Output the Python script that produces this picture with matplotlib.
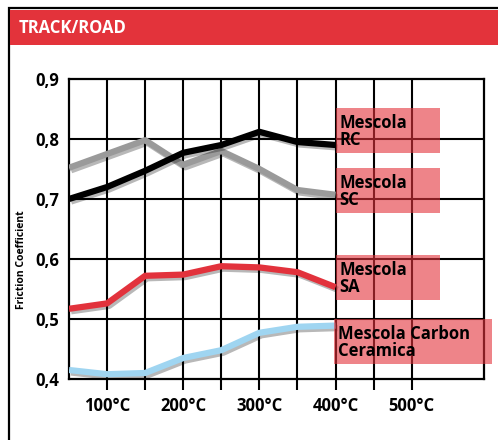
import matplotlib
matplotlib.use("Agg")
import matplotlib.pyplot as plt
import matplotlib.patheffects as pe
from matplotlib.patches import Rectangle

plt.rcParams['font.family'] = ['Open Sans', 'DejaVu Sans']
plt.rcParams['font.weight'] = 'bold'

# data
temps = [50, 100, 150, 200, 250, 300, 350, 400]
rc = [0.700, 0.720, 0.747, 0.777, 0.790, 0.812, 0.795, 0.790]
sc = [0.752, 0.775, 0.798, 0.757, 0.780, 0.750, 0.715, 0.707]
sa = [0.517, 0.526, 0.572, 0.574, 0.588, 0.586, 0.578, 0.553]
cc = [0.415, 0.408, 0.410, 0.435, 0.448, 0.477, 0.487, 0.489]

series_names = ['Mescola\nRC', 'Mescola\nSC', 'Mescola\nSA', 'Mescola Carbon\nCeramica']
series_colors = ['#000000', '#9a9a9a', '#e2323c', '#9fd5f1']

x_ticks = [100, 200, 300, 400, 500]
x_labels = ['100°C', '200°C', '300°C', '400°C', '500°C']
y_ticks = [0.4, 0.5, 0.6, 0.7, 0.8, 0.9]
y_labels = ['0,4', '0,5', '0,6', '0,7', '0,8', '0,9']

red = '#e3333b'

fig = plt.figure(figsize=(4.98, 4.40), dpi=100)

# outer frame + header band
fig.patches.append(Rectangle((9 / 498, -0.1), 1.2, 432 / 440 + 0.1, transform=fig.transFigure,
                             facecolor='none', edgecolor='black', lw=1.6, zorder=0))
fig.patches.append(Rectangle((10 / 498, (440 - 45) / 440), 1.0, 35 / 440, transform=fig.transFigure,
                             facecolor=red, edgecolor='none', zorder=1))
fig.text(19 / 498, (440 - 28) / 440, 'TRACK/ROAD', color='white', fontsize=12,
         fontweight='bold', va='center', ha='left')

ax = fig.add_axes([69 / 498, 61 / 440, (484 - 69) / 498, (379 - 79) / 440])
ax.set_xlim(50, 595)
ax.set_ylim(0.4, 0.9)

# grid every 50°C, labels every 100°C
for xv in range(100, 501, 50):
    ax.axvline(xv, color='black', lw=1.5, zorder=1)
for yv in [0.5, 0.6, 0.7, 0.8]:
    ax.axhline(yv, color='black', lw=1.5, zorder=1)
for s in ax.spines.values():
    s.set_linewidth(1.6)

minor = list(range(100, 501, 50))
ax.set_xticks(minor)
ax.set_xticklabels([x_labels[x_ticks.index(t)] if t in x_ticks else '' for t in minor])
ax.tick_params(axis='x', length=8, width=1.5, pad=5, labelsize=12)
ax.set_yticks(y_ticks)
ax.set_yticklabels(y_labels)
ax.tick_params(axis='y', length=0, pad=7, labelsize=12)

fig.text(22 / 498, (440 - 260) / 440, 'Friction Coefficient', rotation=90, fontsize=7.5,
         fontweight='bold', ha='center', va='center')

shadow = [pe.SimpleLineShadow(offset=(1.5, -1.8), shadow_color='black', alpha=0.28),
          pe.Normal()]
for vals, col in zip([sc, rc, sa, cc], [series_colors[1], series_colors[0],
                                       series_colors[2], series_colors[3]]):
    ax.plot(temps, vals, color=col, lw=4.5, solid_capstyle='butt', zorder=3,
            path_effects=shadow)

# label boxes (x0, x1, y-top, y-bottom in data units)
boxes = [(400, 537, 0.852, 0.777), (400, 537, 0.752, 0.677),
         (400, 537, 0.607, 0.532), (398, 605, 0.500, 0.425)]
for (x0, x1, yt, yb), name in zip(boxes, series_names):
    ax.add_patch(Rectangle((x0, yb), x1 - x0, yt - yb, facecolor=red, alpha=0.6,
                           edgecolor='none', zorder=4, clip_on=False))
    ax.text(x0 + 5, (yt + yb) / 2 - 0.002, name, fontsize=12, fontweight='bold', color='black',
            ha='left', va='center', linespacing=0.95, zorder=5)

fig.savefig('out.png', dpi=100)
